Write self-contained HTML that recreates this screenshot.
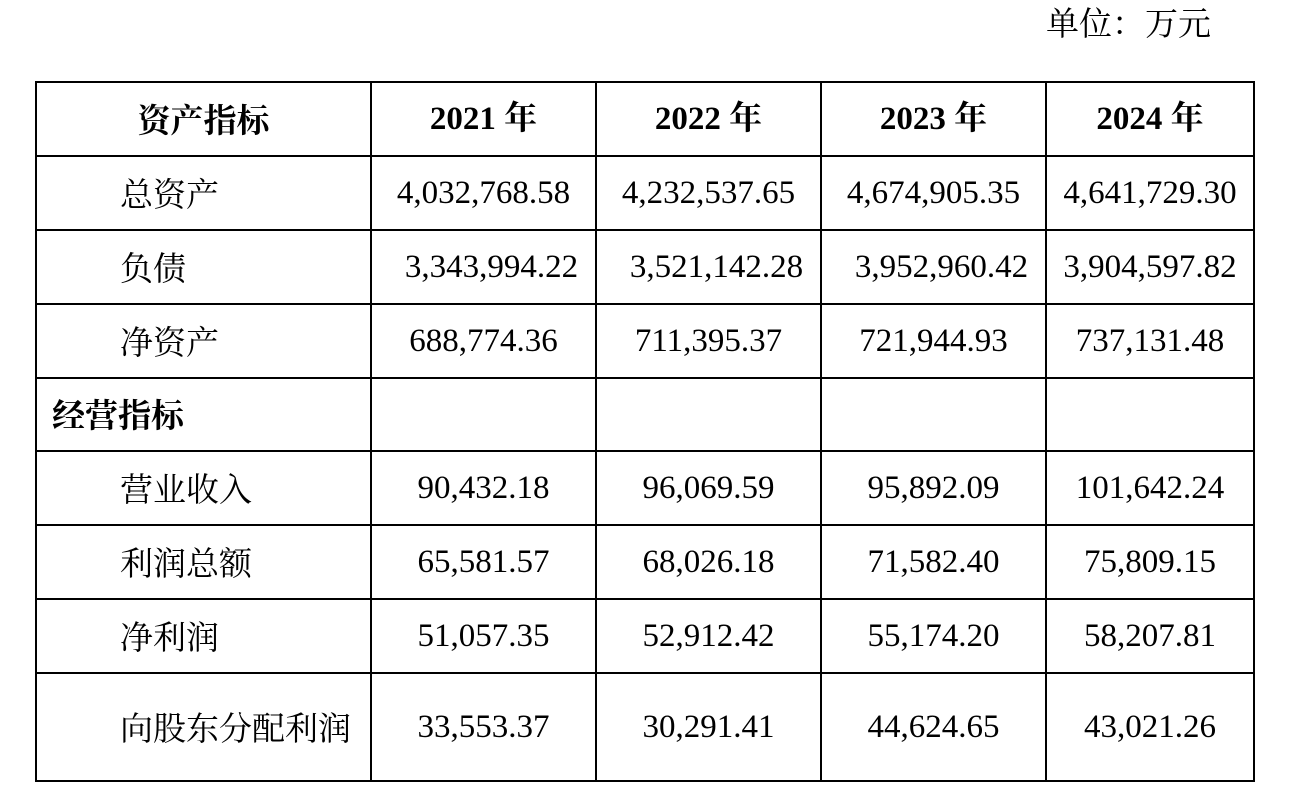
<!DOCTYPE html>
<html><head><meta charset="utf-8"><style>
body{margin:0;width:1300px;height:808px;background:#fff;position:relative;overflow:hidden;font-family:"Liberation Serif","Noto Serif CJK SC",serif;color:#000}
.h{position:absolute;height:2px;background:#000;left:35px;width:1220px}
.v{position:absolute;width:2px;background:#000;top:81px;height:701px}
.t{position:absolute;font-size:33px;line-height:78px;height:78px;white-space:nowrap}
.c{text-align:center}
.b{font-weight:bold}
.z{font-family:"Noto Serif CJK SC",serif;font-size:33px}
</style></head><body>
<div class="t z" style="left:1046px;top:-17px;font-size:33px">单位：万元</div>
<div class="h" style="top:81px"></div>
<div class="h" style="top:155px"></div>
<div class="h" style="top:229px"></div>
<div class="h" style="top:303px"></div>
<div class="h" style="top:377px"></div>
<div class="h" style="top:450px"></div>
<div class="h" style="top:524px"></div>
<div class="h" style="top:598px"></div>
<div class="h" style="top:672px"></div>
<div class="h" style="top:780px"></div>
<div class="v" style="left:35px"></div>
<div class="v" style="left:370px"></div>
<div class="v" style="left:595px"></div>
<div class="v" style="left:820px"></div>
<div class="v" style="left:1045px"></div>
<div class="v" style="left:1253px"></div>

<div class="t c b z" style="left:37px;width:333px;top:80px">资产指标</div>
<div class="t c b" style="left:372px;width:223px;top:80px">2021 年</div>
<div class="t c b" style="left:597px;width:223px;top:80px">2022 年</div>
<div class="t c b" style="left:822px;width:223px;top:80px">2023 年</div>
<div class="t c b" style="left:1047px;width:206px;top:80px">2024 年</div>

<div class="t z" style="left:120px;top:154px">总资产</div>
<div class="t c" style="left:372px;width:223px;top:154px">4,032,768.58</div>
<div class="t c" style="left:597px;width:223px;top:154px">4,232,537.65</div>
<div class="t c" style="left:822px;width:223px;top:154px">4,674,905.35</div>
<div class="t c" style="left:1047px;width:206px;top:154px">4,641,729.30</div>

<div class="t z" style="left:120px;top:228px">负债</div>
<div class="t c" style="left:380px;width:223px;top:228px">3,343,994.22</div>
<div class="t c" style="left:605px;width:223px;top:228px">3,521,142.28</div>
<div class="t c" style="left:830px;width:223px;top:228px">3,952,960.42</div>
<div class="t c" style="left:1047px;width:206px;top:228px">3,904,597.82</div>

<div class="t z" style="left:120px;top:302px">净资产</div>
<div class="t c" style="left:372px;width:223px;top:302px">688,774.36</div>
<div class="t c" style="left:597px;width:223px;top:302px">711,395.37</div>
<div class="t c" style="left:822px;width:223px;top:302px">721,944.93</div>
<div class="t c" style="left:1047px;width:206px;top:302px">737,131.48</div>

<div class="t b z" style="left:52px;top:375px">经营指标</div>

<div class="t z" style="left:120px;top:449px">营业收入</div>
<div class="t c" style="left:372px;width:223px;top:449px">90,432.18</div>
<div class="t c" style="left:597px;width:223px;top:449px">96,069.59</div>
<div class="t c" style="left:822px;width:223px;top:449px">95,892.09</div>
<div class="t c" style="left:1047px;width:206px;top:449px">101,642.24</div>

<div class="t z" style="left:120px;top:523px">利润总额</div>
<div class="t c" style="left:372px;width:223px;top:523px">65,581.57</div>
<div class="t c" style="left:597px;width:223px;top:523px">68,026.18</div>
<div class="t c" style="left:822px;width:223px;top:523px">71,582.40</div>
<div class="t c" style="left:1047px;width:206px;top:523px">75,809.15</div>

<div class="t z" style="left:120px;top:597px">净利润</div>
<div class="t c" style="left:372px;width:223px;top:597px">51,057.35</div>
<div class="t c" style="left:597px;width:223px;top:597px">52,912.42</div>
<div class="t c" style="left:822px;width:223px;top:597px">55,174.20</div>
<div class="t c" style="left:1047px;width:206px;top:597px">58,207.81</div>

<div class="t z" style="left:120px;top:688px">向股东分配利润</div>
<div class="t c" style="left:372px;width:223px;top:688px">33,553.37</div>
<div class="t c" style="left:597px;width:223px;top:688px">30,291.41</div>
<div class="t c" style="left:822px;width:223px;top:688px">44,624.65</div>
<div class="t c" style="left:1047px;width:206px;top:688px">43,021.26</div>
</body></html>
